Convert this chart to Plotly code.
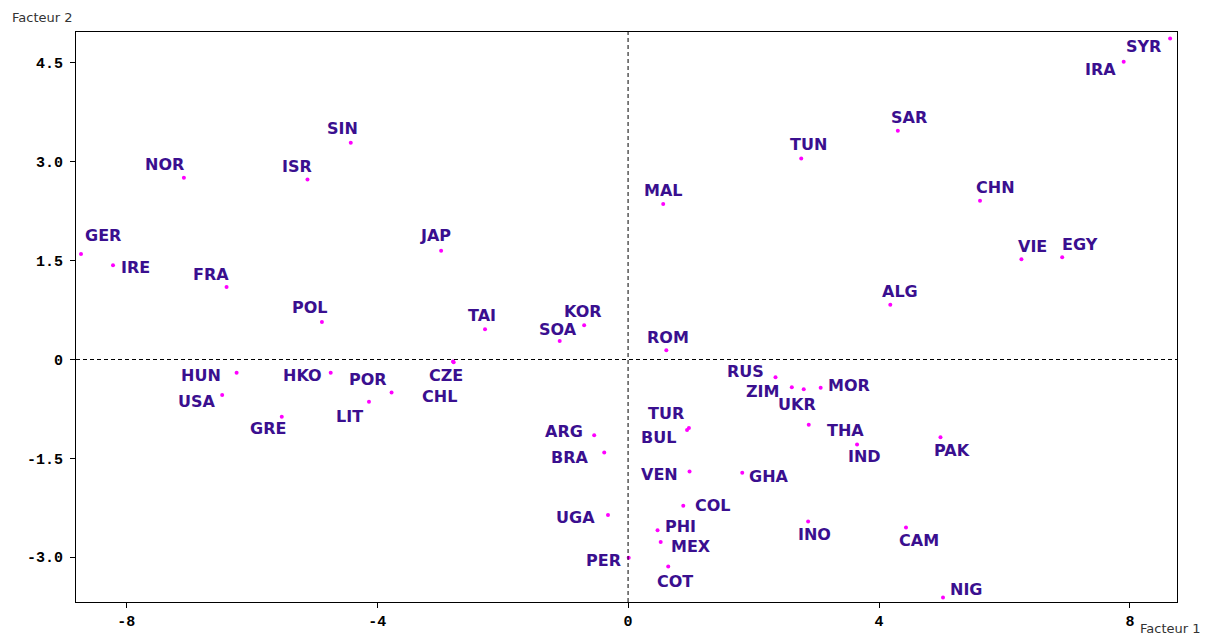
"""
Factor map of countries (Facteur 1 x Facteur 2)
"""
import plotly.graph_objects as go

# country codes and coordinates on the two factors
countries = [
    "GER", "IRE", "NOR", "FRA", "ISR", "SIN", "POL", "JAP", "TAI", "KOR",
    "SOA", "CZE", "CHL", "HKO", "POR", "LIT", "HUN", "USA", "GRE", "ARG",
    "BRA", "UGA", "PER", "TUR", "BUL", "VEN", "GHA", "COL", "PHI", "MEX",
    "COT", "INO", "THA", "RUS", "ZIM", "UKR", "MOR", "IND", "PAK", "SYR",
    "IRA", "SAR", "CHN", "VIE", "EGY", "ALG", "CAM", "NIG", "TUN", "MAL",
    "ROM",
]
factor1 = [
    -8.72, -8.21, -7.08, -6.40, -5.11, -4.42, -4.88, -2.98, -2.28, -0.70,
    -1.09, -2.79, -2.78, -4.74, -3.77, -4.13, -6.24, -6.47, -5.52, -0.54,
    -0.38, -0.32, 0.01, 0.94, 0.97, 0.98, 1.82, 0.88, 0.47, 0.52,
    0.64, 2.87, 2.88, 2.35, 2.61, 2.80, 3.07, 3.65, 4.98, 8.64,
    7.90, 4.30, 5.61, 6.27, 6.92, 4.18, 4.43, 5.02, 2.76, 0.56,
    0.61,
]
factor2 = [
    1.60, 1.43, 2.76, 1.10, 2.73, 3.29, 0.57, 1.65, 0.46, 0.52,
    0.28, -0.03, -0.04, -0.20, -0.50, -0.64, -0.20, -0.54, -0.87, -1.15,
    -1.41, -2.36, -3.01, -1.07, -1.04, -1.70, -1.72, -2.22, -2.59, -2.77,
    -3.14, -2.46, -0.99, -0.27, -0.42, -0.45, -0.43, -1.29, -1.18, 4.87,
    4.52, 3.47, 2.41, 1.52, 1.55, 0.83, -2.55, -3.61, 3.05, 2.36,
    0.14,
]

x_ticks = [-8, -4, 0, 4, 8]
y_ticks = [-3.0, -1.5, 0, 1.5, 3.0, 4.5]
y_tick_text = ["-3.0", "-1.5", "0", "1.5", "3.0", "4.5"]

# label placement relative to each dot (pixels, right / down)
label_offsets = [
    (22, -19), (22, 2), (-19, -13), (-16, -13), (-10, -13), (-8, -14), (-12, -14), (-6, -15), (-3, -14), (-1, -14),
    (-2, -12), (-7, 14), (-14, 34), (-28, 3), (-24, -13), (-19, 15), (-36, 3), (-25, 6), (-14, 12), (-30, -4),
    (-34, 5), (-32, 2), (-25, 3), (-21, -17), (-30, 9), (-30, 3), (27, 4), (30, 0), (23, -4), (30, 4),
    (7, 15), (6, 13), (37, 6), (-30, -6), (-29, 4), (-7, 15), (28, -2), (7, 12), (12, 13), (-27, 8),
    (-23, 8), (11, -13), (15, -13), (11, -13), (18, -13), (10, -13), (13, 13), (23, -8), (7, -14), (0, -13),
    (2, -13),
]

LABEL_COLOR = "#3a0f8f"
DOT_COLOR = "#ff00ff"

# plot area on the page (the page body adds 8px around the figure)
PLOT_L, PLOT_R, PLOT_T, PLOT_B = 76, 1177, 32, 602
PW, PH = PLOT_R - PLOT_L, PLOT_B - PLOT_T

fig = go.Figure()

fig.add_trace(go.Scatter(
    x=factor1,
    y=factor2,
    mode="markers",
    marker=dict(color=DOT_COLOR, size=4),
    hovertext=countries,
    showlegend=False,
))

for name, fx, fy, (dx, dy) in zip(countries, factor1, factor2, label_offsets):
    fig.add_annotation(
        x=fx, y=fy, text=name, showarrow=False,
        xshift=dx, yshift=-dy,
        font=dict(family="DejaVu Sans", size=16, color=LABEL_COLOR, weight="bold"),
    )

# dashed reference lines through the origin
fig.add_shape(type="line", x0=0, x1=0, y0=0, y1=1, xref="x", yref="paper",
              line=dict(color="black", width=1, dash="4px,3px"))
fig.add_shape(type="line", x0=0, x1=1, y0=0, y1=0, xref="paper", yref="y",
              line=dict(color="black", width=1, dash="4px,3px"))

axis_font = dict(family="Liberation Mono", size=15, color="black", weight="bold")

fig.update_xaxes(
    range=[-8.80, 8.75],
    tickvals=x_ticks,
    ticktext=[str(v) for v in x_ticks],
    ticks="outside", ticklen=5, tickcolor="black",
    showline=True, linecolor="black", linewidth=1, mirror=True,
    showgrid=False, zeroline=False, automargin=False,
    tickfont=axis_font,
)
fig.update_yaxes(
    range=[-3.68, 4.97],
    tickvals=y_ticks,
    ticktext=y_tick_text,
    ticks="outside", ticklen=5, tickcolor="black",
    showline=True, linecolor="black", linewidth=1, mirror=True,
    showgrid=False, zeroline=False, automargin=False,
    ticklabelstandoff=4,
    tickfont=axis_font,
)

title_font = dict(family="DejaVu Sans", size=13, color="#333333")
fig.add_annotation(
    text="Facteur 2", xref="paper", yref="paper", showarrow=False,
    x=(10 - PLOT_L) / PW, y=(PLOT_B - 18) / PH,
    xanchor="left", yanchor="middle", font=title_font,
)
fig.add_annotation(
    text="Facteur 1", xref="paper", yref="paper", showarrow=False,
    x=(1202 - PLOT_L) / PW, y=(PLOT_B - 628) / PH,
    xanchor="right", yanchor="middle", font=title_font,
)

fig.update_layout(
    width=1200,
    height=631,
    margin=dict(l=PLOT_L - 8, r=1208 - PLOT_R, t=PLOT_T - 8, b=639 - PLOT_B),
    plot_bgcolor="white",
    paper_bgcolor="white",
    showlegend=False,
)

fig.write_html("out.html")
